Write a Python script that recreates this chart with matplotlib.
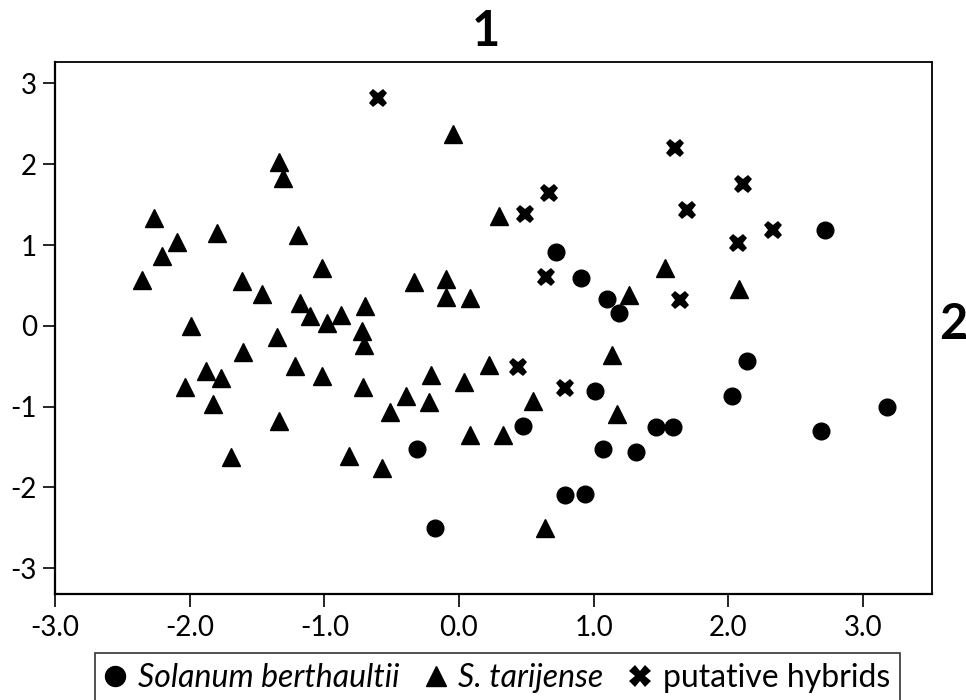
import numpy as np
import matplotlib
matplotlib.use("Agg")
import matplotlib.pyplot as plt

plt.rcParams['font.family'] = ['Lato', 'DejaVu Sans']
plt.rcParams['axes.unicode_minus'] = False

# Solanum berthaultii (circles)
bert_x = [2.72, 0.717, 0.908, 1.098, 1.187, 2.141, -0.313, -0.175, 0.474, 1.007,
          1.465, 1.589, 1.068, 1.311, 0.789, 0.932, 2.027, 2.691, 3.178]
bert_y = [1.19, 0.91, 0.59, 0.33, 0.16, -0.43, -1.53, -2.50, -1.24, -0.81,
          -1.25, -1.25, -1.53, -1.56, -2.09, -2.08, -0.87, -1.30, -1.01]

# S. tarijense (triangles)
tari_x = [-2.354, -2.267, -2.094, -2.205, -1.796, -1.99, -1.339, -1.304, -1.195, -1.614,
          -1.465, -1.017, -1.178, -1.106, -0.982, -0.875, -0.695, -0.719, -0.707, -1.351,
          -0.331, -0.095, -0.10, 0.085, -0.041, 0.30, -1.606, -1.215, 0.22,
          -2.032, -1.878, -1.767, -1.829, -1.017, -0.715, -1.339, -1.693, -0.397, -0.511,
          -0.207, -0.224, -0.819, -0.574, 0.036, 0.083, 0.326, 0.548, 1.175, 0.635,
          1.138, 1.259, 1.527, 2.077]
tari_y = [0.57, 1.33, 1.04, 0.86, 1.15, 0.0, 2.03, 1.83, 1.12, 0.56,
          0.40, 0.72, 0.28, 0.12, 0.04, 0.14, 0.25, -0.06, -0.24, -0.14,
          0.54, 0.58, 0.36, 0.35, 2.37, 1.36, -0.33, -0.50, -0.48,
          -0.76, -0.56, -0.64, -0.97, -0.62, -0.76, -1.18, -1.62, -0.87, -1.07,
          -0.61, -0.94, -1.61, -1.76, -0.70, -1.35, -1.35, -0.93, -1.09, -2.50,
          -0.36, 0.38, 0.72, 0.45]

# putative hybrids (crosses)
hyb_x = [-0.603, 1.606, 0.665, 0.487, 2.109, 1.695, 2.331, 2.072, 0.648, 1.638,
         0.437, 0.784]
hyb_y = [2.82, 2.20, 1.65, 1.38, 1.75, 1.44, 1.19, 1.02, 0.61, 0.32,
         -0.51, -0.77]

x_ticks = [-3.0, -2.0, -1.0, 0.0, 1.0, 2.0, 3.0]
y_ticks = [3, 2, 1, 0, -1, -2, -3]

fig = plt.figure(figsize=(9.66, 7.0), dpi=100)
ax = fig.add_axes([0.0569, 0.1514, 0.9076, 0.7605])

h1, = ax.plot(bert_x, bert_y, 'o', color='black', markersize=12, linestyle='none')
h2, = ax.plot(tari_x, tari_y, '^', color='black', markersize=12.5, linestyle='none')
h3, = ax.plot(hyb_x, hyb_y, 'X', color='black', markersize=13, markeredgewidth=0,
              linestyle='none')

ax.set_xlim(-3.0, 3.51)
ax.set_ylim(-3.32, 3.27)
ax.set_xticks(x_ticks)
ax.set_xticklabels([f"{v:.1f}" for v in x_ticks])
ax.set_yticks(y_ticks)
ax.set_yticklabels([str(v) for v in y_ticks])
ax.tick_params(axis='both', direction='out', length=9, width=1.2,
               labelsize=20, color='black')
ax.tick_params(axis='x', pad=6)
ax.tick_params(axis='y', pad=4)
for side in ['left', 'bottom']:
    ax.spines[side].set_linewidth(1.6)
for side in ['top', 'right']:
    ax.spines[side].set_linewidth(1.3)

fig.text(0.503, 0.955, "1", fontsize=35, fontweight='bold', ha='center', va='center')
fig.text(0.9865, 0.536, "2", fontsize=35, fontweight='bold', ha='center', va='center')

leg = fig.legend([h1, h2, h3],
                 ["Solanum berthaultii", "S. tarijense", "putative hybrids"],
                 loc='upper left', bbox_to_anchor=(0.098, 0.067),
                 bbox_transform=fig.transFigure, ncol=3, fontsize=23,
                 frameon=True, fancybox=False, edgecolor='black',
                 handlelength=0.7, handletextpad=0.35, columnspacing=0.8,
                 borderaxespad=0, borderpad=0.3, markerscale=1.2)
leg.get_frame().set_linewidth(1.2)
texts = leg.get_texts()
texts[0].set_fontstyle('italic')
texts[1].set_fontstyle('italic')

fig.savefig("out.png", dpi=100)
